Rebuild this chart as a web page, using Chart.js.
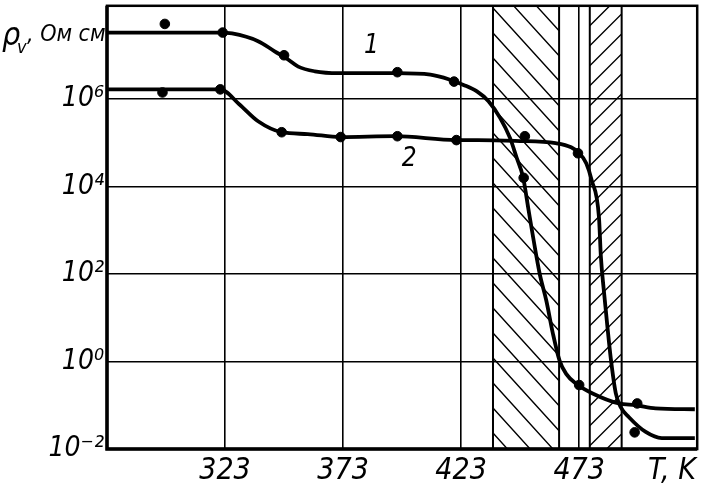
<!DOCTYPE html>
<html>
<head>
<meta charset="utf-8">
<script src="https://cdn.jsdelivr.net/npm/chart.js@4.4.1/dist/chart.umd.min.js"></script>
<style>
  body { margin: 0; background: #fff; }
  #wrap { width: 703px; height: 484px; }
</style>
</head>
<body>
<div id="wrap"><canvas id="chart"></canvas></div>
<script>
// temperature, K  /  resistivity, Ohm cm (log axis)
const xTicks = [323, 373, 423, 473];
const xTickLabels = ['323', '373', '423', '473'];
const yTicks = [0.01, 1, 100, 1e4, 1e6];
const yTickLabels = ['10\u207B\u00B2', '10\u2070', '10\u00B2', '10\u2074', '10\u2076'];

// curve 1 (smooth line)
const t1 = [273, 321, 326, 337, 344, 349, 354, 361, 371, 396, 410, 418, 424, 429.7, 434.6,
            439.5, 443.7, 446.5, 449.3, 451.4, 453.5, 456.3, 459.1, 461.9, 464.7,
            467.5, 471.7, 478.7, 489.8, 497, 505.4, 522];
const rho1 = [3.3e7, 3.3e7, 3.15e7, 2.1e7, 1.23e7, 8.5e6, 5.5e6, 4.3e6, 3.9e6, 3.9e6,
              3.6e6, 2.8e6, 2.1e6, 1.49e6, 8.9e5, 3.7e5, 1.29e5, 4.6e4, 1.58e4, 3.3e3,
              690, 100, 24.5, 4.3, 1.05, 0.52, 0.31, 0.186, 0.11, 0.1, 0.085, 0.081];
// curve 1 measured points
const m1t = [297.5, 322, 348, 396, 420, 449.5, 473, 497.6];
const m1rho = [5.2e7, 3.3e7, 1.0e7, 4.1e6, 2.5e6, 1.58e4, 0.29, 0.11];

// curve 2 (smooth line)
const t2 = [273, 321, 329, 337, 347, 358, 372, 395, 421, 430, 446, 463, 469.6, 473, 476,
            478.3, 481.4, 482.2, 483.6, 485, 486.4, 488.5, 490.6, 494, 501.2, 508, 522];
const rho2 = [1.66e6, 1.66e6, 7.6e5, 3.1e5, 1.74e5, 1.58e5, 1.35e5, 1.41e5, 1.15e5, 1.15e5,
              1.1e5, 9.8e4, 7.9e4, 5.8e4, 3.4e4, 1.4e4, 1.95e3, 250, 35, 6.0,
              1.17, 0.19, 0.091, 0.054, 0.0245, 0.0178, 0.0178];
// curve 2 measured points
const m2t = [296.5, 321, 347, 372, 396, 421, 450, 472.5, 496.5];
const m2rho = [1.41e6, 1.66e6, 1.74e5, 1.35e5, 1.41e5, 1.15e5, 1.41e5, 5.75e4, 0.024];

// hatched temperature bands
const hatchFrom = [436.5, 477.5];
const hatchTo = [464.5, 491];
const hatchDir = ['\\', '/'];

// curve numbers
const tagText = ['1', '2'];
const tagT = [385, 401];
const tagRho = [1.6e7, 4.3e4];

const FONT = "'Liberation Sans Narrow', 'DejaVu Sans Condensed', sans-serif";

const toXY = (xs, ys) => xs.map((v, i) => ({ x: v, y: ys[i] }));
const noPad = s => { s.paddingTop = 0; s.paddingBottom = 0; s.paddingLeft = 0; s.paddingRight = 0; };

const decor = {
    id: 'decor',
    beforeDatasetsDraw(chart) {
        const { ctx, chartArea: a, scales: { x } } = chart;
        hatchFrom.forEach((t0, i) => {
            const x0 = x.getPixelForValue(t0), x1 = x.getPixelForValue(hatchTo[i]);
            const w = x1 - x0, h = a.bottom - a.top;
            const gap = hatchDir[i] === '/' ? 20 : 25;
            const rise = hatchDir[i] === '/' ? w : w * 1.1;
            ctx.save();
            ctx.beginPath();
            ctx.rect(x0, a.top, w, h);
            ctx.clip();
            ctx.strokeStyle = '#000';
            ctx.lineWidth = 1.4;
            ctx.beginPath();
            for (let off = -rise; off < h + rise; off += gap) {
                if (hatchDir[i] === '\\') {
                    ctx.moveTo(x0, a.top + off);
                    ctx.lineTo(x1, a.top + off + rise);
                } else {
                    ctx.moveTo(x0, a.top + off + rise);
                    ctx.lineTo(x1, a.top + off);
                }
            }
            ctx.stroke();
            ctx.restore();
            ctx.save();
            ctx.strokeStyle = '#000';
            ctx.lineWidth = 2;
            ctx.beginPath();
            ctx.moveTo(x0, a.top); ctx.lineTo(x0, a.bottom);
            ctx.moveTo(x1, a.top); ctx.lineTo(x1, a.bottom);
            ctx.stroke();
            ctx.restore();
        });
    },
    afterDraw(chart) {
        const { ctx, chartArea: a, scales: { x, y } } = chart;
        ctx.save();
        // frame
        ctx.strokeStyle = '#000';
        ctx.lineWidth = 2.5;
        ctx.strokeRect(a.left, a.top, a.right - a.left, a.bottom - a.top);
        ctx.lineWidth = 3.5;
        ctx.beginPath();
        ctx.moveTo(a.left, a.top); ctx.lineTo(a.left, a.bottom); ctx.lineTo(a.right, a.bottom);
        ctx.stroke();

        ctx.fillStyle = '#000';
        // curve numbers
        ctx.font = "italic 26px " + FONT;
        ctx.textAlign = 'center';
        ctx.textBaseline = 'middle';
        tagText.forEach((s, i) => {
            ctx.fillText(s, x.getPixelForValue(tagT[i]), y.getPixelForValue(tagRho[i]));
        });

        // axis titles
        ctx.textBaseline = 'alphabetic';
        ctx.textAlign = 'left';
        ctx.font = "italic 32px " + FONT;
        ctx.fillText('\u03C1', 2, 45);
        ctx.font = "italic 18px " + FONT;
        ctx.fillText('v', 17, 53);
        ctx.font = "italic 23px " + FONT;
        ctx.fillText(', Ом см', 27, 41);

        ctx.font = "italic 30px " + FONT;
        ctx.textAlign = 'center';
        ctx.fillText('T, K', 672, 479);
        ctx.restore();
    }
};

new Chart(document.getElementById('chart'), {
    data: {
        datasets: [
            { type: 'line', data: toXY(t1, rho1), borderColor: '#000', borderWidth: 3.8,
              pointRadius: 0, cubicInterpolationMode: 'monotone', fill: false },
            { type: 'line', data: toXY(t2, rho2), borderColor: '#000', borderWidth: 3.8,
              pointRadius: 0, cubicInterpolationMode: 'monotone', fill: false },
            { type: 'scatter', data: toXY(m1t, m1rho), pointRadius: 4.8,
              backgroundColor: '#000', borderColor: '#000' },
            { type: 'scatter', data: toXY(m2t, m2rho), pointRadius: 4.8,
              backgroundColor: '#000', borderColor: '#000' }
        ]
    },
    options: {
        responsive: true,
        maintainAspectRatio: false,
        animation: false,
        devicePixelRatio: 1,
        layout: { padding: { top: 4, right: 3, left: 0, bottom: 0 } },
        plugins: { legend: { display: false }, tooltip: { enabled: false } },
        scales: {
            x: {
                type: 'linear', min: 273, max: 523,
                afterBuildTicks: s => { s.ticks = xTicks.map(v => ({ value: v })); },
                afterFit: s => { s.height = 35; noPad(s); },
                ticks: {
                    color: '#000', padding: 4, maxRotation: 0,
                    font: { family: FONT, size: 30, style: 'italic' },
                    callback: (v, i) => xTickLabels[i]
                },
                grid: { color: '#000', lineWidth: 1.6, drawTicks: false },
                border: { display: false }
            },
            y: {
                type: 'logarithmic', min: 0.01, max: 1.35e8,
                afterBuildTicks: s => { s.ticks = yTicks.map(v => ({ value: v })); },
                afterFit: s => { s.width = 107; noPad(s); },
                ticks: {
                    color: '#000', padding: 3,
                    font: { family: FONT, size: 28, style: 'italic' },
                    callback: (v, i) => yTickLabels[i]
                },
                grid: { color: '#000', lineWidth: 1.6, drawTicks: false },
                border: { display: false }
            }
        }
    },
    plugins: [decor]
});
</script>
</body>
</html>
